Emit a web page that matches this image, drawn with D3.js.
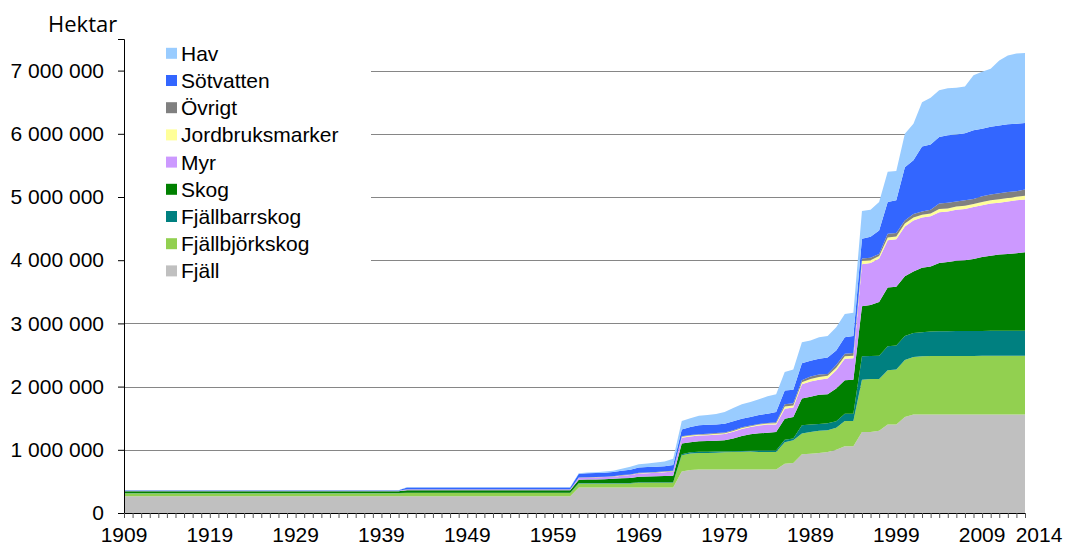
<!DOCTYPE html>
<html>
<head>
<meta charset="utf-8">
<script src="https://cdn.jsdelivr.net/npm/d3@7"></script>
<style>
  body { margin: 0; background: #fff; }
  svg { display: block; }
  text { font-family: "Liberation Sans", Arial, sans-serif; }
</style>
</head>
<body>
<svg id="chart" width="1066" height="547"></svg>
<script>
// år 1909-2014
var years = d3.range(1909, 2015);
var xTickYears = [1909, 1919, 1929, 1939, 1949, 1959, 1969, 1979, 1989, 1999, 2009, 2014];
var yTicks = [0, 1000000, 2000000, 3000000, 4000000, 5000000, 6000000, 7000000];

// värden i tusental hektar, ett värde per år
var fjall = [
  265,265,265,265,265,265,265,265,265,265,
  265,265,265,265,265,265,265,265,265,265,
  265,265,265,265,265,265,265,265,265,265,
  265,265,265,265,265,265,265,265,265,265,
  265,265,265,265,265,265,265,265,265,265,
  265,265,265,405,405,405,405,405,405,405,
  405,405,405,405,405,655,680,687,687,687,
  687,687,687,687,687,687,687,780,790,930,
  937,950,965,1000,1055,1055,1280,1280,1300,1400,
  1400,1520,1560,1560,1560,1560,1560,1560,1560,1560,
  1560,1560,1560,1560,1560,1560];
var fjallbjork = [
  48,48,48,48,48,48,48,48,48,48,
  48,48,48,48,48,48,48,48,48,48,
  48,48,48,48,48,48,48,48,48,48,
  48,48,48,51,51,51,51,51,51,51,
  51,51,51,51,51,51,51,51,51,51,
  51,51,51,62,62,62,62,62,62,62,
  73,73,73,73,73,258,260,263,263,268,
  273,278,283,288,280,280,280,340,360,326,
  343,350,345,350,401,401,830,840,820,860,
  870,900,910,920,925,925,925,925,925,925,
  927,927,928,928,930,930];
var fjallbarr = [
  5,5,5,5,5,5,5,5,5,5,
  5,5,5,5,5,5,5,5,5,5,
  5,5,5,5,5,5,5,5,5,5,
  5,5,5,6,6,6,6,6,6,6,
  6,6,6,6,6,6,6,6,6,6,
  6,6,6,8,8,8,8,8,8,8,
  8,8,8,8,8,17,20,20,20,18,
  15,13,10,10,20,20,20,40,30,132,
  120,110,110,100,114,114,370,365,370,380,
  380,380,380,380,385,390,390,393,393,395,
  393,395,394,397,395,395];
var skog = [
  28,28,28,28,28,28,28,28,28,28,
  28,28,28,28,28,28,28,28,28,28,
  28,28,28,28,28,28,28,28,28,28,
  28,28,28,38,38,38,38,38,38,38,
  38,38,38,38,38,38,38,38,38,38,
  38,38,38,53,55,57,60,65,73,80,
  89,92,94,99,104,168,160,165,170,172,
  175,202,240,260,273,283,293,330,340,422,
  440,460,460,520,530,540,790,805,850,930,
  930,945,970,1020,1030,1081,1095,1112,1122,1140,
  1170,1188,1208,1215,1225,1240];
var myr = [
  4,4,4,4,4,4,4,4,4,4,
  4,4,4,4,4,4,4,4,4,4,
  4,4,4,4,4,4,4,4,4,4,
  4,4,4,12,12,12,12,12,12,12,
  12,12,12,12,12,12,12,12,12,12,
  12,12,12,27,30,31,33,35,42,45,
  50,52,55,60,65,92,90,90,90,95,
  100,105,110,115,125,130,120,160,150,226,
  240,240,250,290,340,340,665,666,685,745,
  750,790,810,795,795,804,800,810,810,820,
  820,826,820,830,840,835];
var jordbruk = [
  1,1,1,1,1,1,1,1,1,1,
  1,1,1,1,1,1,1,1,1,1,
  1,1,1,1,1,1,1,1,1,1,
  1,1,1,1,1,1,1,1,1,1,
  1,1,1,1,1,1,1,1,1,1,
  1,1,1,3,3,3,3,3,4,4,
  5,5,5,7,7,15,15,13,13,13,
  13,13,13,12,15,15,20,35,30,34,
  40,40,40,40,40,40,55,44,40,45,
  45,45,45,45,45,50,50,50,50,50,
  50,54,55,55,55,60];
var ovrigt = [
  1,1,1,1,1,1,1,1,1,1,
  1,1,1,1,1,1,1,1,1,1,
  1,1,1,1,1,1,1,1,1,1,
  1,1,1,2,2,2,2,2,2,2,
  2,2,2,2,2,2,2,2,2,2,
  2,2,2,4,4,4,4,5,6,6,
  7,7,8,8,8,9,10,10,11,11,
  12,12,12,13,10,10,15,35,35,30,
  40,40,30,40,40,40,35,40,35,60,
  55,50,55,50,60,86,90,80,90,80,
  90,90,95,95,85,100];
var sotvatten = [
  6,6,6,6,6,6,6,6,6,6,
  6,6,6,6,6,6,6,6,6,6,
  6,6,6,6,6,6,6,6,6,6,
  6,6,6,30,30,30,30,30,30,30,
  30,30,30,30,30,30,30,30,30,30,
  30,30,30,61,61,62,63,67,70,75,
  83,86,85,79,90,106,125,140,141,136,
  139,140,135,135,140,145,165,220,215,270,
  250,250,260,230,260,270,315,330,370,500,
  520,840,850,1030,1030,1054,1066,1060,1060,1085,
  1070,1070,1070,1070,1070,1050];
var hav = [
  2,2,2,2,2,2,2,2,2,2,
  2,2,2,2,2,2,2,2,2,2,
  2,2,2,2,2,2,2,2,2,2,
  2,2,2,5,5,5,5,5,5,5,
  5,5,5,5,5,5,5,5,5,5,
  5,5,5,5,12,13,17,20,30,45,
  50,57,67,76,100,136,140,152,155,165,
  186,210,230,236,250,276,280,290,320,330,
  320,340,340,370,370,370,440,430,450,480,
  460,530,580,700,740,740,744,740,740,870,
  900,920,1030,1090,1110,1110];

var seriesNames = ["Fjäll", "Fjällbjörkskog", "Fjällbarrskog", "Skog", "Myr",
  "Jordbruksmarker", "Övrigt", "Sötvatten", "Hav"];
var seriesValues = [fjall, fjallbjork, fjallbarr, skog, myr, jordbruk, ovrigt, sotvatten, hav];
var colors = ["#c0c0c0", "#92d050", "#008080", "#008000", "#cc99ff",
  "#ffff99", "#808080", "#3366ff", "#99ccff"];

var svg = d3.select("#chart");
var margin = {top: 39, right: 41, bottom: 34, left: 124},
  width = 1066 - margin.left - margin.right,
  height = 547 - margin.top - margin.bottom;

var g = svg.append("g")
  .attr("transform", "translate(" + margin.left + "," + margin.top + ")");

var x = d3.scaleLinear().domain([1909, 2014]).range([0, width]);
var y = d3.scaleLinear().domain([0, 7500000]).range([height, 0]);

var table = years.map(function(yr, i) {
  var row = {year: yr};
  seriesNames.forEach(function(n, k) { row[n] = seriesValues[k][i] * 1000; });
  return row;
});

var stack = d3.stack().keys(seriesNames);
var layers = stack(table);

var locale = d3.formatLocale({decimal: ",", thousands: " ", grouping: [3], currency: ["", ""]});
var fmt = locale.format(",");

// stödlinjer
g.append("g")
  .selectAll("line")
  .data(yTicks.slice(1))
  .enter().append("line")
  .attr("x1", 0)
  .attr("x2", width)
  .attr("y1", function(d) { return Math.round(y(d)) + 0.5; })
  .attr("y2", function(d) { return Math.round(y(d)) + 0.5; })
  .attr("stroke", "#868686")
  .attr("stroke-width", 1);

var area = d3.area()
  .x(function(d) { return x(d.data.year); })
  .y0(function(d) { return y(d[0]); })
  .y1(function(d) { return y(d[1]); });

g.selectAll(".layer")
  .data(layers)
  .enter().append("path")
  .attr("class", "layer")
  .attr("d", area)
  .attr("fill", function(d, i) { return colors[i]; });

// y-axel
var yAxis = g.append("g")
  .call(d3.axisLeft(y).tickValues(yTicks).tickSize(6).tickPadding(14).tickFormat(fmt));
yAxis.select(".domain").attr("stroke", "#000");
yAxis.selectAll(".tick line").attr("stroke", "#000");
yAxis.selectAll("text").style("font-size", "21px").attr("fill", "#000");

// x-axel
var xAxis = g.append("g")
  .attr("transform", "translate(0," + height + ")")
  .call(d3.axisBottom(x).tickValues(years).tickSize(5).tickFormat(""));
xAxis.select(".domain").attr("stroke", "#000");
xAxis.selectAll(".tick line").attr("stroke", "#555");

g.append("g")
  .selectAll("text")
  .data(xTickYears)
  .enter().append("text")
  .attr("x", function(d) { return x(d) + (d === 2014 ? 14 : 0); })
  .attr("y", height + 29)
  .attr("text-anchor", "middle")
  .style("font-size", "21px")
  .text(function(d) { return d; });

// enhet
svg.append("text")
  .attr("x", 48)
  .attr("y", 32)
  .style("font-family", "'Open Sans', sans-serif")
  .style("font-size", "22px")
  .text("Hektar");

// förklaring
var legend = g.append("g");
legend.append("rect")
  .attr("x", 1)
  .attr("y", 1)
  .attr("width", 246)
  .attr("height", 245)
  .attr("fill", "#fff");

var legendItems = seriesNames.slice().reverse();
var legendColors = colors.slice().reverse();
var li = legend.selectAll(".li")
  .data(legendItems)
  .enter().append("g")
  .attr("class", "li")
  .attr("transform", function(d, i) { return "translate(42," + (14.3 + i * 27.2) + ")"; });
li.append("rect")
  .attr("x", 0)
  .attr("y", -5.5)
  .attr("width", 11)
  .attr("height", 11)
  .attr("fill", function(d, i) { return legendColors[i]; });
li.append("text")
  .attr("x", 15)
  .attr("y", 7.5)
  .style("font-size", "21px")
  .text(function(d) { return d; });
</script>
</body>
</html>
